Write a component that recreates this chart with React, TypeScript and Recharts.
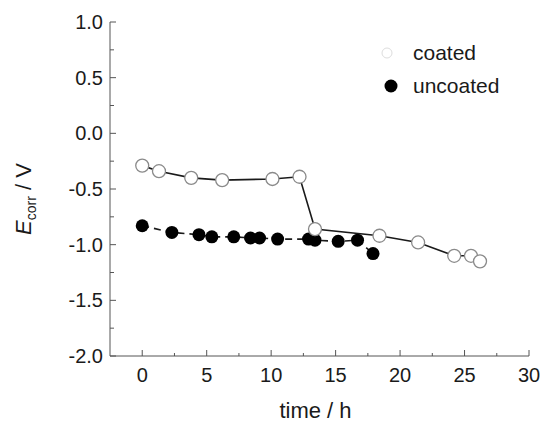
import { ComposedChart, Line, XAxis, YAxis, Label } from "recharts";

// E_corr vs time
const coatedT = [0, 1.3, 3.8, 6.2, 10.1, 12.2, 13.4, 18.4, 21.4, 24.2, 25.5, 26.2];
const coatedE = [-0.29, -0.34, -0.4, -0.42, -0.41, -0.39, -0.86, -0.92, -0.98, -1.1, -1.1, -1.15];

const uncoatedT = [0, 2.3, 4.4, 5.4, 7.1, 8.4, 9.1, 10.5, 12.9, 13.4, 15.2, 16.7, 17.9];
const uncoatedE = [-0.83, -0.89, -0.91, -0.93, -0.93, -0.94, -0.94, -0.95, -0.95, -0.96, -0.97, -0.96, -1.08];

const xTicks = [0, 2.5, 5, 7.5, 10, 12.5, 15, 17.5, 20, 22.5, 25, 27.5, 30];
const yTicks = [-2, -1.75, -1.5, -1.25, -1, -0.75, -0.5, -0.25, 0, 0.25, 0.5, 0.75, 1];

const coated = coatedT.map((t, i) => ({ t, v: coatedE[i] }));
const uncoated = uncoatedT.map((t, i) => ({ t, v: uncoatedE[i] }));

const FONT = '"Liberation Sans", Arial, sans-serif';
const AXIS = "#555";
const INK = "#1a1a1a";

function XTick({ x, y, payload }: any) {
  const major = payload.value % 5 === 0;
  return (
    <g>
      <line x1={x} x2={x} y1={y} y2={y - (major ? 6 : 3)} stroke={AXIS} />
      {major && (
        <text x={x} y={y + 26} textAnchor="middle" fontSize={20} fill={INK} fontFamily={FONT}>
          {payload.value}
        </text>
      )}
    </g>
  );
}

function YTick({ x, y, payload }: any) {
  const major = Math.abs((payload.value * 2) % 1) < 1e-6;
  return (
    <g>
      <line x1={x} x2={x + (major ? 6 : 4)} y1={y} y2={y} stroke={AXIS} />
      {major && (
        <text x={x - 7} y={y + 7} textAnchor="end" fontSize={20} fill={INK} fontFamily={FONT}>
          {payload.value.toFixed(1)}
        </text>
      )}
    </g>
  );
}

function YLabel({ viewBox }: any) {
  const cx = 31;
  const cy = viewBox.y + viewBox.height / 2 + 10;
  return (
    <text
      x={cx}
      y={cy}
      transform={`rotate(-90, ${cx}, ${cy})`}
      textAnchor="middle"
      fontSize={22}
      fill={INK}
      fontFamily={FONT}
    >
      <tspan fontStyle="italic">E</tspan>
      <tspan fontSize={14} dy={5}>corr</tspan>
      <tspan dy={-5}> / V</tspan>
    </text>
  );
}

function XLabel({ viewBox }: any) {
  return (
    <text
      x={viewBox.x + viewBox.width / 2 - 4}
      y={418}
      textAnchor="middle"
      fontSize={22}
      fill={INK}
      fontFamily={FONT}
    >
      time / h
    </text>
  );
}

const OpenDot = (props: any) => (
  <circle key={`o${props.index}`} cx={props.cx} cy={props.cy} r={6.5} fill="#fff" stroke="#8a8a8a" strokeWidth={1.3} />
);

const FullDot = (props: any) => (
  <circle key={`f${props.index}`} cx={props.cx} cy={props.cy} r={6.5} fill="#000" />
);

function LegendBox() {
  const rows = [
    { name: "coated", open: true },
    { name: "uncoated", open: false },
  ];
  return (
    <div style={{ position: "absolute", left: 378, top: 36, fontFamily: FONT, fontSize: 21, color: INK }}>
      {rows.map(r => (
        <div key={r.name} style={{ display: "flex", alignItems: "center", height: 33 }}>
          <svg width={20} height={20} style={{ marginRight: 15 }}>
            {r.open
              ? <circle cx={9} cy={10} r={5} fill="#fff" stroke="#ddd" strokeWidth={1} />
              : <circle cx={13} cy={10} r={6.5} fill="#000" />}
          </svg>
          <span>{r.name}</span>
        </div>
      ))}
    </div>
  );
}

export default function App() {
  return (
    <div style={{ position: "absolute", left: 0, top: 0, width: 554, height: 424, background: "#fff" }}>
      <ComposedChart width={554} height={424} margin={{ top: 22, right: 25, bottom: 0, left: 0 }}>
        <XAxis
          dataKey="t"
          type="number"
          domain={[-2.5, 30]}
          ticks={xTicks}
          allowDataOverflow
          height={68}
          tickSize={0}
          tickMargin={0}
          tickLine={false}
          axisLine={{ stroke: AXIS }}
          tick={<XTick />}
        >
          <Label content={<XLabel />} />
        </XAxis>
        <XAxis xAxisId="top" orientation="top" type="number" domain={[-2.5, 30]} height={0} tick={false} tickLine={false} axisLine={{ stroke: AXIS }} />
        <YAxis
          type="number"
          domain={[-2, 1]}
          ticks={yTicks}
          width={110}
          tickSize={0}
          tickMargin={0}
          tickLine={false}
          axisLine={{ stroke: AXIS }}
          tick={<YTick />}
        >
          <Label content={<YLabel />} />
        </YAxis>
        <YAxis yAxisId="right" orientation="right" type="number" domain={[-2, 1]} width={0} tick={false} tickLine={false} axisLine={{ stroke: AXIS }} />
        <Line
          data={uncoated}
          dataKey="v"
          name="uncoated"
          stroke={INK}
          strokeWidth={1.6}
          strokeDasharray="7 5"
          dot={FullDot}
          isAnimationActive={false}
        />
        <Line
          data={coated}
          dataKey="v"
          name="coated"
          stroke={INK}
          strokeWidth={1.6}
          dot={OpenDot}
          isAnimationActive={false}
        />
      </ComposedChart>
      <LegendBox />
    </div>
  );
}
